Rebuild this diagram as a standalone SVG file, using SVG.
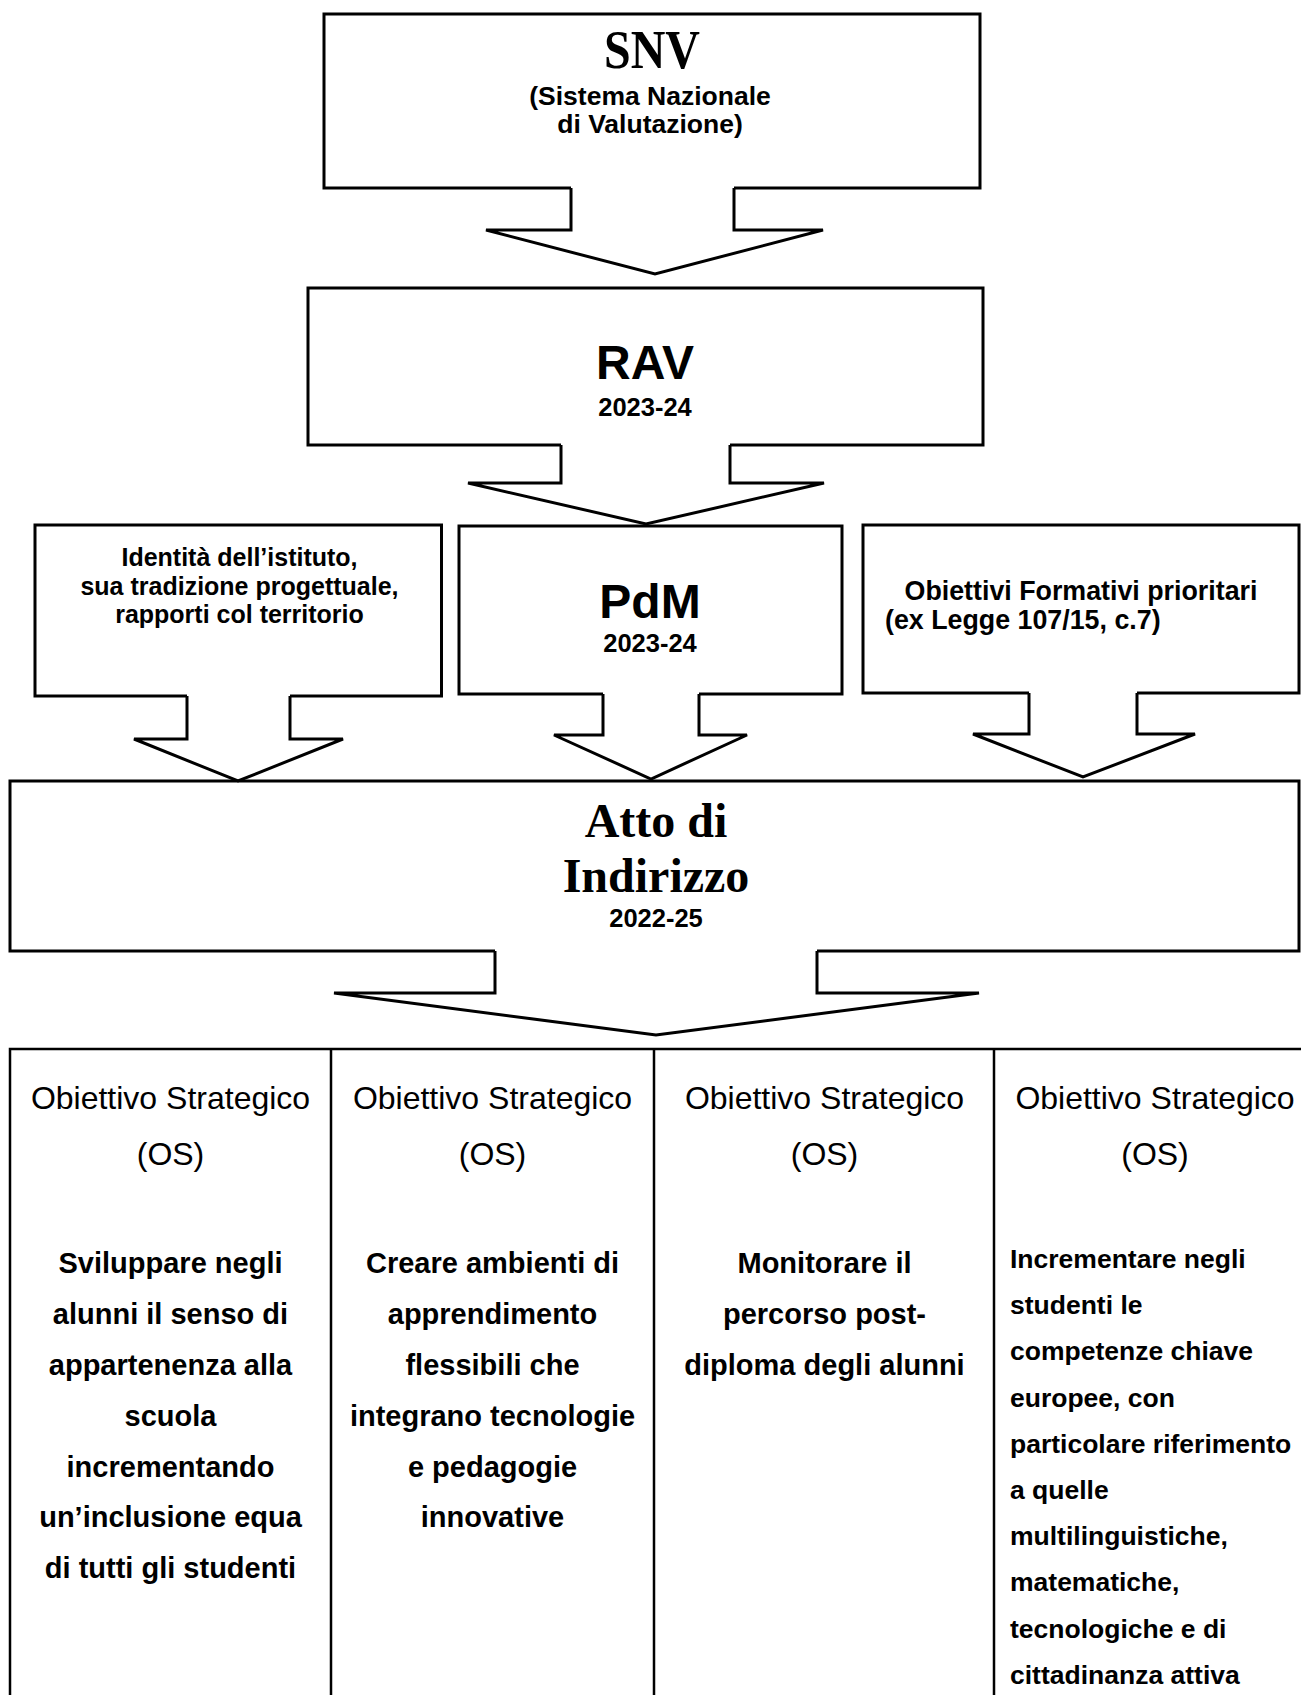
<svg xmlns="http://www.w3.org/2000/svg" width="1301" height="1695" viewBox="0 0 1301 1695">
<style>
.box{fill:#fff;stroke:#000;stroke-width:3}
.afill{fill:#fff;stroke:none}
.arrow{fill:none;stroke:#000;stroke-width:3;stroke-linejoin:miter}
.grid{stroke:#000;stroke-width:2.5;fill:none}
.serif{font-family:"Liberation Serif","Times New Roman",serif;font-weight:bold;fill:#000}
.sans{font-family:"Liberation Sans",Arial,sans-serif;fill:#000}
.b{font-weight:bold}
.c{text-anchor:middle}
.h{font-size:32px}
.t{font-size:29px}
.t4{font-size:26.5px}
.s{font-size:25.5px}
.m{font-size:26.8px}
.l{font-size:25px}
.big{font-size:48px}
</style>
<rect width="1301" height="1695" fill="#fff"/>

<g id="snv">
<rect class="box" x="324" y="14" width="656" height="174"/>
<text class="serif c" x="652" y="68" font-size="55" textLength="96" lengthAdjust="spacingAndGlyphs">SNV</text>
<text class="sans b c" x="650" y="105" font-size="26.5">(Sistema Nazionale</text>
<text class="sans b c" x="650" y="133" font-size="26.5">di Valutazione)</text>
</g>

<g id="rav">
<rect class="box" x="308" y="288" width="675" height="157"/>
<text class="sans b c big" x="645" y="379">RAV</text>
<text class="sans b c s" x="645" y="416">2023-24</text>
</g>

<g id="identita">
<rect class="box" x="35" y="525" width="406.5" height="171"/>
<text class="sans b c l" x="239.5" y="566">Identità dell’istituto,</text>
<text class="sans b c l" x="239.5" y="594.5">sua tradizione progettuale,</text>
<text class="sans b c l" x="239.5" y="623">rapporti col territorio</text>
</g>

<g id="pdm">
<rect class="box" x="459" y="526" width="383" height="168"/>
<text class="sans b c big" x="650" y="618">PdM</text>
<text class="sans b c s" x="650" y="652">2023-24</text>
</g>

<g id="obiettivi-formativi">
<rect class="box" x="863" y="525" width="436" height="168"/>
<text class="sans b c m" x="1081" y="600">Obiettivi Formativi prioritari</text>
<text class="sans b m" x="885" y="629">(ex Legge 107/15, c.7)</text>
</g>

<g id="atto">
<rect class="box" x="10" y="781" width="1289" height="170"/>
<text class="serif c" x="656" y="837" font-size="48">Atto di</text>
<text class="serif c" x="656" y="892" font-size="48">Indirizzo</text>
<text class="sans b c s" x="656" y="927">2022-25</text>
</g>

<g id="connectors">
<path class="afill" d="M571,186 V230 H486 L655,274 L823,230 H734 V186 Z"/>
<path class="arrow" d="M571,188 V230 H486 L655,274 L823,230 H734 V188"/>
<path class="afill" d="M561,443 V483 H468 L646,524 L824,483 H730 V443 Z"/>
<path class="arrow" d="M561,445 V483 H468 L646,524 L824,483 H730 V445"/>
<path class="afill" d="M187,694 V739 H134 L238,781 L343,739 H290 V694 Z"/>
<path class="arrow" d="M187,696 V739 H134 L238,781 L343,739 H290 V696"/>
<path class="afill" d="M603,692 V735 H554 L651,779 L747,735 H699 V692 Z"/>
<path class="arrow" d="M603,694 V735 H554 L651,779 L747,735 H699 V694"/>
<path class="afill" d="M1029,691 V734 H973 L1083,777 L1195,734 H1137 V691 Z"/>
<path class="arrow" d="M1029,693 V734 H973 L1083,777 L1195,734 H1137 V693"/>
<path class="afill" d="M495,949 V993 H334 L656,1035 L979,993 H817 V949 Z"/>
<path class="arrow" d="M495,951 V993 H334 L656,1035 L979,993 H817 V951"/>
</g>

<g id="table">
<path class="grid" d="M10,1700 V1049 H1310 M331,1049 V1700 M654,1049 V1700 M994,1049 V1700"/>
</g>

<g id="os1">
<text class="sans c h" x="170.5" y="1109">Obiettivo Strategico</text>
<text class="sans c h" x="170.5" y="1165">(OS)</text>
<text class="sans b c t" x="170.5" y="1273">Sviluppare negli</text>
<text class="sans b c t" x="170.5" y="1324">alunni il senso di</text>
<text class="sans b c t" x="170.5" y="1375">appartenenza alla</text>
<text class="sans b c t" x="170.5" y="1426">scuola</text>
<text class="sans b c t" x="170.5" y="1477">incrementando</text>
<text class="sans b c t" x="170.5" y="1527">un’inclusione equa</text>
<text class="sans b c t" x="170.5" y="1578">di tutti gli studenti</text>
</g>

<g id="os2">
<text class="sans c h" x="492.5" y="1109">Obiettivo Strategico</text>
<text class="sans c h" x="492.5" y="1165">(OS)</text>
<text class="sans b c t" x="492.5" y="1273">Creare ambienti di</text>
<text class="sans b c t" x="492.5" y="1324">apprendimento</text>
<text class="sans b c t" x="492.5" y="1375">flessibili che</text>
<text class="sans b c t" x="492.5" y="1426">integrano tecnologie</text>
<text class="sans b c t" x="492.5" y="1477">e pedagogie</text>
<text class="sans b c t" x="492.5" y="1527">innovative</text>
</g>

<g id="os3">
<text class="sans c h" x="824.5" y="1109">Obiettivo Strategico</text>
<text class="sans c h" x="824.5" y="1165">(OS)</text>
<text class="sans b c t" x="824.5" y="1273">Monitorare il</text>
<text class="sans b c t" x="824.5" y="1324">percorso post-</text>
<text class="sans b c t" x="824.5" y="1375">diploma degli alunni</text>
</g>

<g id="os4">
<text class="sans c h" x="1155" y="1109">Obiettivo Strategico</text>
<text class="sans c h" x="1155" y="1165">(OS)</text>
<text class="sans b t4" x="1010" y="1268">Incrementare negli</text>
<text class="sans b t4" x="1010" y="1314">studenti le</text>
<text class="sans b t4" x="1010" y="1360">competenze chiave</text>
<text class="sans b t4" x="1010" y="1407">europee, con</text>
<text class="sans b t4" x="1010" y="1453">particolare riferimento</text>
<text class="sans b t4" x="1010" y="1499">a quelle</text>
<text class="sans b t4" x="1010" y="1545">multilinguistiche,</text>
<text class="sans b t4" x="1010" y="1591">matematiche,</text>
<text class="sans b t4" x="1010" y="1638">tecnologiche e di</text>
<text class="sans b t4" x="1010" y="1684">cittadinanza attiva</text>
</g>
</svg>
